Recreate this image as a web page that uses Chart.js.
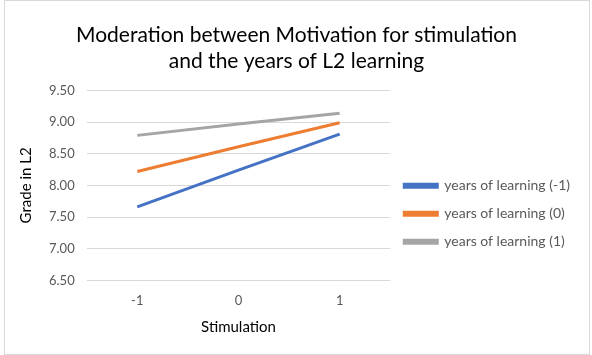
<!DOCTYPE html>
<html lang="en">
<head>
<meta charset="UTF-8">
<title>Moderation between Motivation for stimulation</title>
<style>
    body { margin: 0; background: #fff; }
    .box {
        position: absolute; left: 4px; top: 0;
        width: 584px; height: 353px;
        border: 1px solid #d9d9d9;
        background: #fff;
    }
</style>
<script src="https://cdn.jsdelivr.net/npm/chart.js"></script>
</head>
<body>
<div class="box"><canvas id="chart" width="584" height="353"></canvas></div>
<script>
// data
const stimulation = ['-1', '0', '1'];
const yearsMinus1 = [7.66, 8.24, 8.81];
const yearsZero = [8.22, 8.61, 8.99];
const yearsPlus1 = [8.79, 8.97, 9.14];
const seriesNames = ['years of learning (-1)', 'years of learning (0)', 'years of learning (1)'];

const grey = '#595959';
const fontFam = "Lato, 'Open Sans', sans-serif";

function series(label, data, color) {
    return {
        label: label,
        data: data,
        borderColor: color,
        backgroundColor: color,
        borderWidth: 3,
        pointRadius: 0,
        tension: 0
    };
}

function draw() {
    new Chart(document.getElementById('chart'), {
        type: 'line',
        data: {
            labels: stimulation,
            datasets: [
                series(seriesNames[0], yearsMinus1, '#4472C4'),
                series(seriesNames[1], yearsZero, '#ED7D31'),
                series(seriesNames[2], yearsPlus1, '#A5A5A5')
            ]
        },
        options: {
            responsive: false,
            animation: false,
            layout: { padding: { top: 22, left: 8, right: 9, bottom: 18 } },
            plugins: {
                title: {
                    display: true,
                    text: ['Moderation between Motivation for stimulation', 'and the years of L2 learning'],
                    color: '#000',
                    font: { family: fontFam, size: 21, weight: 'normal' },
                    lineHeight: 1.15,
                    padding: { top: 0, bottom: 17 }
                },
                legend: {
                    position: 'right',
                    maxWidth: 210,
                    title: {
                        display: true,
                        text: ' ',
                        font: { family: fontFam, size: 12 },
                        padding: { top: 0, bottom: 54 }
                    },
                    labels: {
                        color: grey,
                        boxWidth: 33,
                        boxHeight: 3,
                        padding: 14,
                        font: { family: fontFam, size: 14 }
                    }
                },
                tooltip: { enabled: false }
            },
            scales: {
                x: {
                    offset: true,
                    grid: { display: false },
                    border: { display: false },
                    ticks: { color: grey, padding: 5, font: { family: fontFam, size: 13 } },
                    title: {
                        display: true,
                        text: 'Stimulation',
                        color: '#000',
                        padding: { top: 4, bottom: 0 },
                        font: { family: fontFam, size: 15 }
                    }
                },
                y: {
                    min: 6.5,
                    max: 9.5,
                    grid: { color: '#d9d9d9', drawTicks: false },
                    border: { display: false },
                    ticks: {
                        stepSize: 0.5,
                        padding: 12,
                        color: grey,
                        font: { family: fontFam, size: 13 },
                        callback: v => v.toFixed(2)
                    },
                    title: {
                        display: true,
                        text: 'Grade in L2',
                        color: '#000',
                        padding: { top: 4, bottom: 2 },
                        font: { family: fontFam, size: 15 }
                    }
                }
            }
        }
    });
}

Promise.all([
    document.fonts.load('13px Lato'),
    document.fonts.load('21px Lato')
]).then(draw, draw);
</script>
</body>
</html>
